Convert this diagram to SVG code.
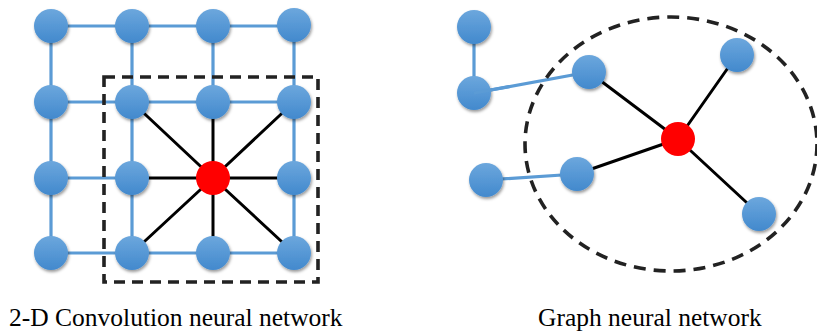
<svg xmlns="http://www.w3.org/2000/svg" width="817" height="331" viewBox="0 0 817 331">
<defs>
<linearGradient id="bg" x1="0" y1="0" x2="0" y2="1">
<stop offset="0" stop-color="#6CA7DD"/>
<stop offset="1" stop-color="#4289CD"/>
</linearGradient>
<filter id="sh" x="-40%" y="-40%" width="180%" height="180%">
<feDropShadow dx="1" dy="2" stdDeviation="1.6" flood-color="#000" flood-opacity="0.4"/>
</filter>
</defs>
<style>
.b{stroke:#5B9BD5;stroke-width:3.2;fill:none}
.k{stroke:#000;stroke-width:3;fill:none}
.n{fill:url(#bg);filter:url(#sh)}
.r{fill:#FF0000}
.d{stroke:#222;stroke-width:3.6;fill:none;stroke-dasharray:11 7}
.t{font-family:"Liberation Serif","Times New Roman",serif;font-size:25.5px;fill:#000}
</style>
<rect width="817" height="331" fill="#fff"/>
<g id="connectors">
<path class="b" d="M51,26H294M51,102H294M51,178H132M51,253H294M51,26V253M132,26V253M213,26V102M294,26V253"/>
<path class="k" d="M213,178L132,102M213,178L213,102M213,178L294,102M213,178L132,178M213,178L294,178M213,178L132,253M213,178L213,253M213,178L294,253"/>
<path class="b" d="M474,27V93M474,93L589,72M486,180L577,174"/>
<path class="k" d="M678,139L589,72M678,139L737,55M678,139L577,174M678,139L759,214"/>
</g>
<rect id="window" class="d" x="104" y="77" width="214" height="205"/>
<ellipse id="neighborhood" class="d" cx="671" cy="144" rx="146" ry="127" style="stroke-dasharray:12 8"/>
<g id="grid-nodes">
<circle id="n00" class="n" cx="51" cy="26" r="17"/>
<circle id="n01" class="n" cx="132" cy="26" r="17"/>
<circle id="n02" class="n" cx="213" cy="26" r="17"/>
<circle id="n03" class="n" cx="294" cy="25" r="17"/>
<circle id="n10" class="n" cx="51" cy="102" r="17"/>
<circle id="n11" class="n" cx="132" cy="102" r="17"/>
<circle id="n12" class="n" cx="213" cy="102" r="17"/>
<circle id="n13" class="n" cx="294" cy="102" r="17"/>
<circle id="n20" class="n" cx="51" cy="178" r="17"/>
<circle id="n21" class="n" cx="132" cy="178" r="17"/>
<circle id="n23" class="n" cx="294" cy="178" r="17"/>
<circle id="n30" class="n" cx="51" cy="253" r="17"/>
<circle id="n31" class="n" cx="132" cy="253" r="17"/>
<circle id="n32" class="n" cx="213" cy="253" r="17"/>
<circle id="n33" class="n" cx="294" cy="253" r="17"/>
</g>
<g id="grid-center"><circle class="r" cx="213" cy="178" r="17"/></g>
<g id="graph-nodes">
<circle id="gA" class="n" cx="474" cy="27" r="17"/>
<circle id="gB" class="n" cx="474" cy="93" r="17"/>
<circle id="gC" class="n" cx="589" cy="72" r="17"/>
<circle id="gD" class="n" cx="737" cy="55" r="17"/>
<circle id="gE" class="n" cx="577" cy="174" r="17"/>
<circle id="gF" class="n" cx="486" cy="180" r="17"/>
<circle id="gG" class="n" cx="759" cy="214" r="17"/>
</g>
<g id="graph-center"><circle class="r" cx="678" cy="139" r="17"/></g>
<line class="b" x1="474" y1="93" x2="510" y2="86.5"/>
<g id="labels">
<text class="t" x="9" y="326">2-D Convolution neural network</text>
<text class="t" x="538" y="326">Graph neural network</text>
</g>
</svg>
